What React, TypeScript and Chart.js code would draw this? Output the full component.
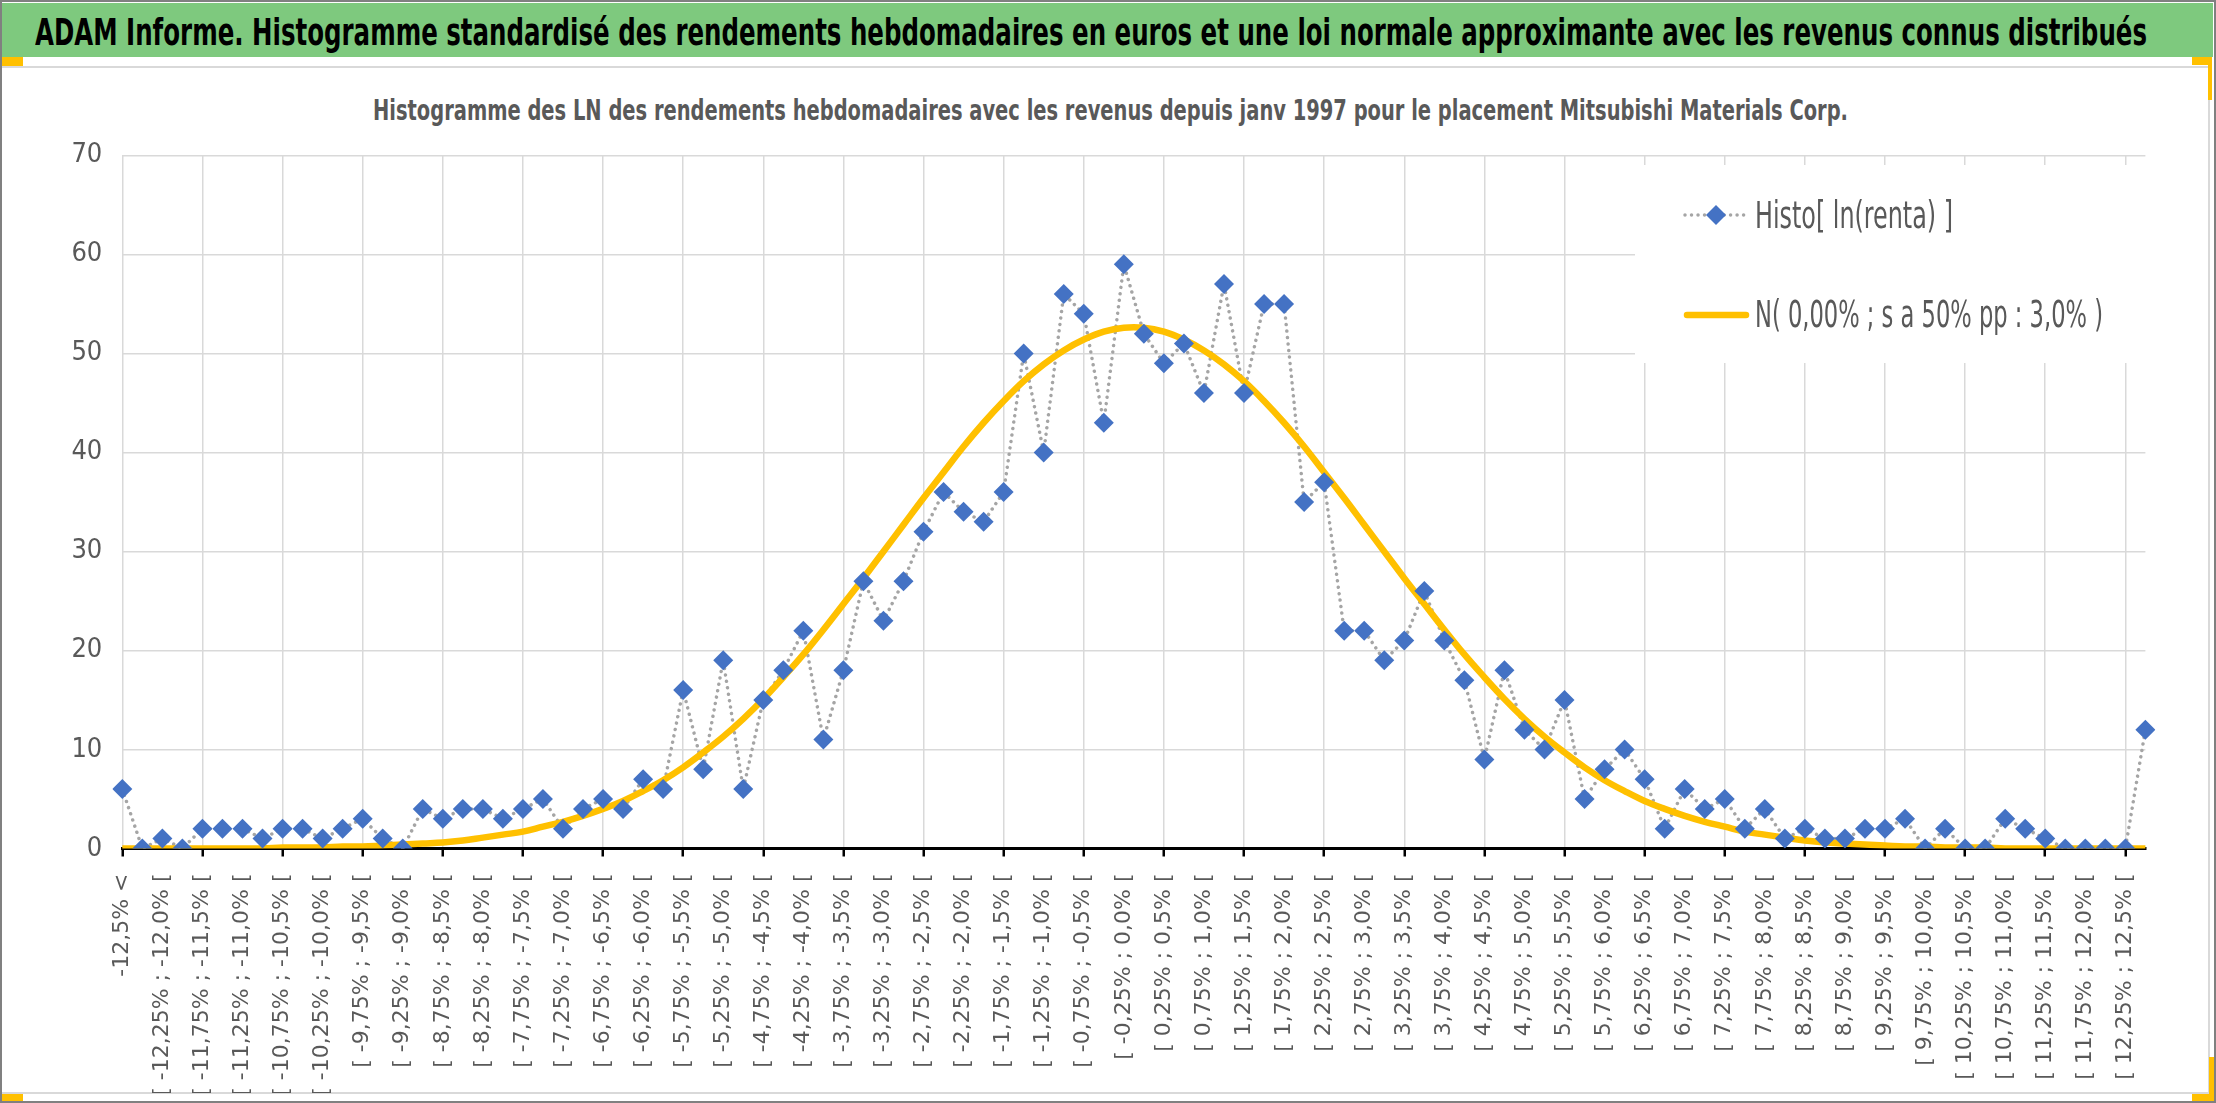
import React, { useEffect, useLayoutEffect, useRef } from 'react';
import { Chart, registerables, Plugin } from 'chart.js';

Chart.register(...registerables);

// ---- data ----
const categories = [
  '-12,5% <', '[ -12,5% ; -12,25% [', '[ -12,25% ; -12,0% [', '[ -12,0% ; -11,75% [',
  '[ -11,75% ; -11,5% [', '[ -11,5% ; -11,25% [', '[ -11,25% ; -11,0% [', '[ -11,0% ; -10,75% [',
  '[ -10,75% ; -10,5% [', '[ -10,5% ; -10,25% [', '[ -10,25% ; -10,0% [', '[ -10,0% ; -9,75% [',
  '[ -9,75% ; -9,5% [', '[ -9,5% ; -9,25% [', '[ -9,25% ; -9,0% [', '[ -9,0% ; -8,75% [',
  '[ -8,75% ; -8,5% [', '[ -8,5% ; -8,25% [', '[ -8,25% ; -8,0% [', '[ -8,0% ; -7,75% [',
  '[ -7,75% ; -7,5% [', '[ -7,5% ; -7,25% [', '[ -7,25% ; -7,0% [', '[ -7,0% ; -6,75% [',
  '[ -6,75% ; -6,5% [', '[ -6,5% ; -6,25% [', '[ -6,25% ; -6,0% [', '[ -6,0% ; -5,75% [',
  '[ -5,75% ; -5,5% [', '[ -5,5% ; -5,25% [', '[ -5,25% ; -5,0% [', '[ -5,0% ; -4,75% [',
  '[ -4,75% ; -4,5% [', '[ -4,5% ; -4,25% [', '[ -4,25% ; -4,0% [', '[ -4,0% ; -3,75% [',
  '[ -3,75% ; -3,5% [', '[ -3,5% ; -3,25% [', '[ -3,25% ; -3,0% [', '[ -3,0% ; -2,75% [',
  '[ -2,75% ; -2,5% [', '[ -2,5% ; -2,25% [', '[ -2,25% ; -2,0% [', '[ -2,0% ; -1,75% [',
  '[ -1,75% ; -1,5% [', '[ -1,5% ; -1,25% [', '[ -1,25% ; -1,0% [', '[ -1,0% ; -0,75% [',
  '[ -0,75% ; -0,5% [', '[ -0,5% ; -0,25% [', '[ -0,25% ; 0,0% [', '[ 0,0% ; 0,25% [',
  '[ 0,25% ; 0,5% [', '[ 0,5% ; 0,75% [', '[ 0,75% ; 1,0% [', '[ 1,0% ; 1,25% [',
  '[ 1,25% ; 1,5% [', '[ 1,5% ; 1,75% [', '[ 1,75% ; 2,0% [', '[ 2,0% ; 2,25% [',
  '[ 2,25% ; 2,5% [', '[ 2,5% ; 2,75% [', '[ 2,75% ; 3,0% [', '[ 3,0% ; 3,25% [',
  '[ 3,25% ; 3,5% [', '[ 3,5% ; 3,75% [', '[ 3,75% ; 4,0% [', '[ 4,0% ; 4,25% [',
  '[ 4,25% ; 4,5% [', '[ 4,5% ; 4,75% [', '[ 4,75% ; 5,0% [', '[ 5,0% ; 5,25% [',
  '[ 5,25% ; 5,5% [', '[ 5,5% ; 5,75% [', '[ 5,75% ; 6,0% [', '[ 6,0% ; 6,25% [',
  '[ 6,25% ; 6,5% [', '[ 6,5% ; 6,75% [', '[ 6,75% ; 7,0% [', '[ 7,0% ; 7,25% [',
  '[ 7,25% ; 7,5% [', '[ 7,5% ; 7,75% [', '[ 7,75% ; 8,0% [', '[ 8,0% ; 8,25% [',
  '[ 8,25% ; 8,5% [', '[ 8,5% ; 8,75% [', '[ 8,75% ; 9,0% [', '[ 9,0% ; 9,25% [',
  '[ 9,25% ; 9,5% [', '[ 9,5% ; 9,75% [', '[ 9,75% ; 10,0% [', '[ 10,0% ; 10,25% [',
  '[ 10,25% ; 10,5% [', '[ 10,5% ; 10,75% [', '[ 10,75% ; 11,0% [', '[ 11,0% ; 11,25% [',
  '[ 11,25% ; 11,5% [', '[ 11,5% ; 11,75% [', '[ 11,75% ; 12,0% [', '[ 12,0% ; 12,25% [',
  '[ 12,25% ; 12,5% [', '12,5% <=',
];

// weekly counts per bin
const histo = [
  6, 0, 1, 0, 2, 2, 2, 1, 2, 2,
  1, 2, 3, 1, 0, 4, 3, 4, 4, 3,
  4, 5, 2, 4, 5, 4, 7, 6, 16, 8,
  19, 6, 15, 18, 22, 11, 18, 27, 23, 27,
  32, 36, 34, 33, 36, 50, 40, 56, 54, 43,
  59, 52, 49, 51, 46, 57, 46, 55, 55, 35,
  37, 22, 22, 19, 21, 26, 21, 17, 9, 18,
  12, 10, 15, 5, 8, 10, 7, 2, 6, 4,
  5, 2, 4, 1, 2, 1, 1, 2, 2, 3,
  0, 2, 0, 0, 3, 2, 1, 0, 0, 0,
  0, 12,
];

// approximating normal curve
const normal = [
  0, 0, 0, 0, 0, 0, 0, 0, 0.1, 0.1,
  0.1, 0.2, 0.2, 0.3, 0.4, 0.5, 0.6, 0.8, 1.1, 1.4,
  1.7, 2.2, 2.7, 3.3, 4.0, 4.8, 5.8, 6.9, 8.2, 9.7,
  11.3, 13.1, 15.1, 17.3, 19.6, 22.1, 24.7, 27.3, 30.0, 32.7,
  35.4, 38.0, 40.6, 43.0, 45.2, 47.2, 48.9, 50.3, 51.4, 52.2,
  52.6, 52.6, 52.2, 51.4, 50.3, 48.9, 47.2, 45.2, 43.0, 40.6,
  38.0, 35.4, 32.7, 30.0, 27.3, 24.7, 22.1, 19.6, 17.3, 15.1,
  13.1, 11.3, 9.7, 8.2, 6.9, 5.8, 4.8, 4.0, 3.3, 2.7,
  2.2, 1.7, 1.4, 1.1, 0.8, 0.6, 0.5, 0.4, 0.3, 0.2,
  0.2, 0.1, 0.1, 0.1, 0, 0, 0, 0, 0, 0,
  0, 0,
];

const yTicks = [0, 10, 20, 30, 40, 50, 60, 70];
const seriesNames = ['Histo[ ln(renta) ]', 'N( 0,00% ; s a 50% pp : 3,0% )'];

const pageTitle =
  'ADAM Informe. Histogramme standardisé des rendements hebdomadaires en euros et une loi normale approximante avec les revenus connus distribués';
const chartTitle =
  'Histogramme des LN des rendements hebdomadaires avec les revenus depuis janv 1997 pour le placement Mitsubishi Materials Corp.';

// ---- styles ----
const NARROW = '"Liberation Sans Narrow", "DejaVu Sans Condensed", "Liberation Sans", sans-serif';
const WIDE = '"DejaVu Sans", Verdana, sans-serif';
const TEXT = '#595959';
const GRID = '#d9d9d9';
const MARK = '#4472c4';
const DOTS = '#a5a5a5';
const GOLD = '#ffc000';
const GREEN = '#7ec97e';

// stretch/squeeze canvas text to a given width
function fitText(ctx: CanvasRenderingContext2D, text: string, x: number, y: number, w: number) {
  const m = ctx.measureText(text).width || 1;
  ctx.save();
  ctx.translate(x, y);
  ctx.scale(w / m, 1);
  ctx.fillText(text, 0, 0);
  ctx.restore();
}

// legend drawn inside the plot, over the gridlines
const insideLegend: Plugin<'line'> = {
  id: 'insideLegend',
  afterDraw(chart) {
    const ctx = chart.ctx;
    ctx.save();
    ctx.fillStyle = '#ffffff';
    ctx.fillRect(1635, 97, 520, 198);

    ctx.lineCap = 'round';
    ctx.strokeStyle = DOTS;
    ctx.lineWidth = 3.5;
    ctx.setLineDash([0.01, 6.5]);
    ctx.beginPath();
    ctx.moveTo(1685, 147);
    ctx.lineTo(1745, 147);
    ctx.stroke();
    ctx.setLineDash([]);

    const r = 10;
    ctx.fillStyle = MARK;
    ctx.beginPath();
    ctx.moveTo(1716 - r, 147);
    ctx.lineTo(1716, 147 - r);
    ctx.lineTo(1716 + r, 147);
    ctx.lineTo(1716, 147 + r);
    ctx.closePath();
    ctx.fill();

    ctx.strokeStyle = GOLD;
    ctx.lineWidth = 6.5;
    ctx.beginPath();
    ctx.moveTo(1687, 247);
    ctx.lineTo(1746, 247);
    ctx.stroke();

    ctx.fillStyle = TEXT;
    ctx.font = `37px ${NARROW}`;
    ctx.textBaseline = 'alphabetic';
    ctx.textAlign = 'left';
    fitText(ctx, seriesNames[0], 1755, 160, 198);
    fitText(ctx, seriesNames[1], 1755, 259, 348);
    ctx.restore();
  },
};

function FitLine(props: {
  text: string; left: number; top: number; width: number;
  size: number; weight: number; color: string;
}) {
  const ref = useRef<HTMLDivElement>(null);
  useLayoutEffect(() => {
    const el = ref.current;
    if (!el) return;
    const fit = () => {
      el.style.transform = 'none';
      const w = el.getBoundingClientRect().width;
      if (w > 0) el.style.transform = `scaleX(${props.width / w})`;
    };
    fit();
    if (document.fonts) document.fonts.ready.then(fit);
  }, [props.text, props.width]);
  return (
    <div
      ref={ref}
      style={{
        position: 'absolute', left: props.left, top: props.top, whiteSpace: 'nowrap',
        fontFamily: NARROW, fontSize: props.size, lineHeight: `${props.size}px`,
        fontWeight: props.weight, color: props.color, transformOrigin: 'left top',
      }}
    >
      {props.text}
    </div>
  );
}

const HistoChart: React.FC = () => {
  const canvasRef = useRef<HTMLCanvasElement>(null);
  const chartRef = useRef<Chart<'line'>>();

  useEffect(() => {
    const canvas = canvasRef.current;
    if (!canvas) return;
    if (chartRef.current) chartRef.current.destroy();

    chartRef.current = new Chart(canvas, {
      type: 'line',
      data: {
        labels: categories,
        datasets: [
          {
            label: seriesNames[0],
            data: histo,
            borderColor: DOTS,
            borderWidth: 3.5,
            borderDash: [0.01, 6.5],
            borderCapStyle: 'round',
            pointRadius: 0,
            tension: 0,
            order: 3,
          },
          {
            label: seriesNames[1],
            data: normal,
            borderColor: GOLD,
            borderWidth: 6.5,
            pointRadius: 0,
            tension: 0.4,
            order: 2,
          },
          {
            // markers of the histogram, kept above both lines
            label: seriesNames[0] + ' markers',
            data: histo,
            showLine: false,
            pointStyle: 'rectRot',
            pointRadius: 10,
            pointBackgroundColor: MARK,
            pointBorderWidth: 0,
            order: 1,
          },
        ],
      },
      options: {
        animation: false,
        responsive: true,
        maintainAspectRatio: false,
        layout: { padding: { top: 87.4, right: 70.6, left: 0, bottom: 0 } },
        plugins: {
          legend: { display: false },
          title: { display: false },
          tooltip: { enabled: false },
        },
        scales: {
          x: {
            afterFit: (scale) => { scale.height = 244.5; },
            border: { display: true, color: '#000000', width: 3 },
            grid: {
              color: (c) => (c.index % 4 === 0 ? GRID : 'rgba(0,0,0,0)'),
              tickColor: (c) => (c.index % 4 === 0 ? '#000000' : 'rgba(0,0,0,0)'),
              lineWidth: 1.5,
              tickWidth: 2.5,
              tickLength: 8,
              drawTicks: true,
            },
            ticks: {
              autoSkip: false,
              maxRotation: 90,
              minRotation: 90,
              padding: 17,
              color: TEXT,
              font: { family: WIDE, size: 22 },
              callback: (_v, i) => (i % 2 === 0 ? categories[i] : ''),
            },
          },
          y: {
            min: yTicks[0],
            max: yTicks[yTicks.length - 1],
            afterFit: (scale) => { scale.width = 122.3; },
            border: { display: false },
            grid: {
              color: (c) => (c.tick && c.tick.value === 0 ? 'rgba(0,0,0,0)' : GRID),
              lineWidth: 1.5,
              drawTicks: false,
            },
            ticks: {
              stepSize: yTicks[1] - yTicks[0],
              padding: 20,
              color: TEXT,
              font: { family: NARROW, size: 27 },
            },
          },
        },
      },
      plugins: [insideLegend],
    });

    return () => {
      if (chartRef.current) {
        chartRef.current.destroy();
        chartRef.current = undefined;
      }
    };
  }, []);

  return (
    <div style={{ position: 'absolute', left: 0, top: 68, width: 2216, height: 1025 }}>
      <canvas ref={canvasRef} />
    </div>
  );
};

const App: React.FC = () => {
  return (
    <div
      style={{
        position: 'fixed', left: 0, top: 0, width: 2216, height: 1103,
        background: '#ffffff', overflow: 'hidden',
      }}
    >
      {/* chart frame */}
      <div
        style={{
          position: 'absolute', left: 0, top: 66, width: 2210, height: 1028,
          boxSizing: 'border-box', border: `2px solid ${GRID}`,
        }}
      />
      <FitLine text={chartTitle} left={373} top={97} width={1475} size={28} weight={700} color={TEXT} />
      <HistoChart />

      {/* title band */}
      <div style={{ position: 'absolute', left: 2, top: 3, width: 2211, height: 54, background: GREEN }} />
      <FitLine text={pageTitle} left={35} top={13} width={2112} size={38} weight={700} color="#000000" />

      {/* orange corner marks */}
      <div style={{ position: 'absolute', left: 0, top: 57, width: 23, height: 9, background: GOLD }} />
      <div style={{ position: 'absolute', left: 2192, top: 57, width: 20, height: 8, background: GOLD }} />
      <div style={{ position: 'absolute', left: 2208, top: 57, width: 4, height: 43, background: GOLD }} />
      <div style={{ position: 'absolute', left: 2209, top: 1057, width: 7, height: 46, background: GOLD }} />
      <div style={{ position: 'absolute', left: 2192, top: 1094, width: 24, height: 9, background: GOLD }} />
      <div style={{ position: 'absolute', left: 0, top: 1094, width: 23, height: 9, background: GOLD }} />

      {/* outer border */}
      <div
        style={{
          position: 'absolute', left: 0, top: 0, width: 2216, height: 1103,
          boxSizing: 'border-box', border: '2px solid #808080', pointerEvents: 'none',
        }}
      />
    </div>
  );
};

export default App;
